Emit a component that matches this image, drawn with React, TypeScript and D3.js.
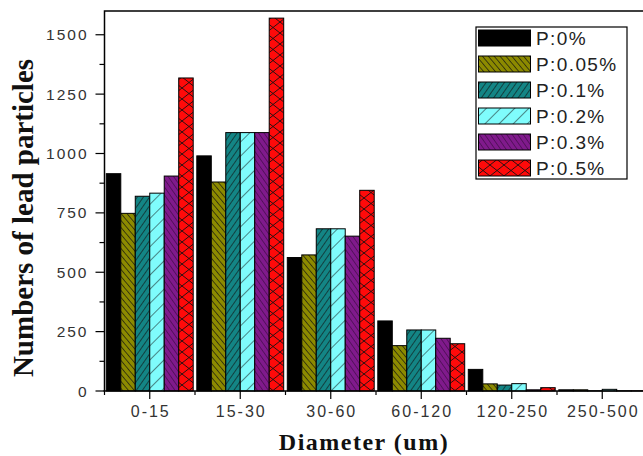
import React from "react";
import { scaleBand, scaleLinear, range } from "d3";

const categories = ["0-15", "15-30", "30-60", "60-120", "120-250", "250-500"];
const seriesNames = ["P:0%", "P:0.05%", "P:0.1%", "P:0.2%", "P:0.3%", "P:0.5%"];

const p0 = [915, 990, 562, 295, 91, 5];
const p005 = [748, 880, 573, 191, 30, 5];
const p01 = [820, 1088, 683, 257, 25, 1];
const p02 = [833, 1088, 683, 257, 31, 7];
const p03 = [905, 1088, 652, 222, 5, 1];
const p05 = [1318, 1570, 845, 199, 14, 1];

const yTicks = [0, 250, 500, 750, 1000, 1250, 1500];

const W = 643;
const H = 456;

// fill + hatch per series
const styles = [
  { fill: "#000000", pattern: null },
  { fill: "#8c8a00", pattern: "olive" },
  { fill: "#138585", pattern: "teal" },
  { fill: "#7ffcfc", pattern: "cyan" },
  { fill: "#801a8c", pattern: "purple" },
  { fill: "#ff0a0a", pattern: "red" },
];

const Patterns = () => (
  <defs>
    <pattern id="olive" width="4.5" height="4.5" patternUnits="userSpaceOnUse" patternTransform="rotate(-40)">
      <rect width="4.5" height="4.5" fill="#8c8a00" />
      <line x1="0" y1="0" x2="0" y2="4.5" stroke="#111" strokeWidth="1.3" />
    </pattern>
    <pattern id="teal" width="5" height="5" patternUnits="userSpaceOnUse" patternTransform="rotate(35)">
      <rect width="5" height="5" fill="#138585" />
      <line x1="0" y1="0" x2="0" y2="5" stroke="#111" strokeWidth="1.2" />
    </pattern>
    <pattern id="cyan" width="10" height="10" patternUnits="userSpaceOnUse" patternTransform="rotate(45)">
      <rect width="10" height="10" fill="#7ffcfc" />
      <line x1="0" y1="0" x2="0" y2="10" stroke="#111" strokeWidth="1" />
    </pattern>
    <pattern id="purple" width="4.5" height="4.5" patternUnits="userSpaceOnUse" patternTransform="rotate(-35)">
      <rect width="4.5" height="4.5" fill="#801a8c" />
      <line x1="0" y1="0" x2="0" y2="4.5" stroke="#3a0a40" strokeWidth="1.2" />
    </pattern>
    <pattern id="red" width="14" height="11" patternUnits="userSpaceOnUse">
      <rect width="14" height="11" fill="#ff0a0a" />
      <path d="M0,0L14,11M14,0L0,11" stroke="#111" strokeWidth="0.9" fill="none" />
    </pattern>
  </defs>
);

export default function App() {
  const series = [p0, p005, p01, p02, p03, p05];
  const left = 104.5;
  const bandW = 90.5;
  const baseY = 391;
  const topY = 11;

  const x = scaleBand().domain(categories).range([left, left + bandW * categories.length]);
  const xInner = scaleBand().domain(seriesNames).range([1.8, bandW - 1.8]);
  const y = scaleLinear().domain([0, 1600]).range([baseY, topY]);

  const fillOf = (i) => (styles[i].pattern ? `url(#${styles[i].pattern})` : styles[i].fill);
  const minorY = range(125, 1600, 250);

  const legX = 476;
  const legY = 27;

  return (
    <svg width={W} height={H} style={{ position: "absolute", left: 0, top: 0, background: "#fff" }}>
      <Patterns />

      {/* bars */}
      {series.map((vals, si) =>
        vals.map((v, ci) => (
          <rect
            key={`${si}-${ci}`}
            x={x(categories[ci]) + xInner(seriesNames[si])}
            y={y(v)}
            width={xInner.bandwidth()}
            height={baseY - y(v)}
            fill={fillOf(si)}
            stroke="#000"
            strokeWidth={1}
          />
        ))
      )}

      {/* frame */}
      <path d={`M${left},${baseY}V${topY}H${W + 10}`} fill="none" stroke="#000" strokeWidth={1.5} />
      <line x1={left - 1} x2={W + 10} y1={baseY} y2={baseY} stroke="#000" strokeWidth={1.5} />

      {/* y ticks */}
      {yTicks.map((t) => (
        <g key={t}>
          <line x1={left - 9} x2={left} y1={y(t)} y2={y(t)} stroke="#000" strokeWidth={1.2} />
          <text
            x={left - 16}
            y={y(t) + 5.5}
            textAnchor="end"
            fontFamily="Liberation Sans, Arial, sans-serif"
            fontSize={15.5}
            letterSpacing={2}
            fill="#333"
          >
            {t}
          </text>
        </g>
      ))}
      {minorY.map((t) => (
        <line key={t} x1={left - 5} x2={left} y1={y(t)} y2={y(t)} stroke="#000" strokeWidth={1.2} />
      ))}

      {/* x ticks */}
      {categories.map((c) => (
        <g key={c}>
          <line
            x1={x(c) + bandW / 2}
            x2={x(c) + bandW / 2}
            y1={baseY}
            y2={baseY + 8}
            stroke="#000"
            strokeWidth={1.2}
          />
          <line x1={x(c)} x2={x(c)} y1={baseY} y2={baseY + 4} stroke="#000" strokeWidth={1.2} />
          <text
            x={x(c) + bandW / 2 + 1}
            y={417}
            textAnchor="middle"
            fontFamily="Liberation Sans, Arial, sans-serif"
            fontSize={16}
            letterSpacing={2}
            fill="#333"
          >
            {c}
          </text>
        </g>
      ))}

      {/* axis titles */}
      <text
        transform={`translate(33,218) rotate(-90)`}
        textAnchor="middle"
        fontFamily="Liberation Serif, Times New Roman, serif"
        fontWeight="bold"
        fontSize={29}
        fill="#111"
      >
        Numbers of lead particles
      </text>
      <text
        x={364}
        y={450}
        textAnchor="middle"
        fontFamily="Liberation Serif, Times New Roman, serif"
        fontWeight="bold"
        fontSize={24}
        letterSpacing={1.5}
        fill="#111"
      >
        Diameter (um)
      </text>

      {/* legend */}
      <rect x={legX} y={legY} width={151} height={152} fill="#fff" stroke="#000" strokeWidth={1.2} />
      {seriesNames.map((s, i) => (
        <g key={s}>
          <rect
            x={legX + 2.5}
            y={legY + 3 + i * 26}
            width={52}
            height={16}
            fill={fillOf(i)}
            stroke="#000"
            strokeWidth={1}
          />
          <text
            x={legX + 60}
            y={legY + 18 + i * 26}
            fontFamily="Liberation Sans, Arial, sans-serif"
            fontSize={19}
            letterSpacing={1.4}
            fill="#222"
          >
            {s}
          </text>
        </g>
      ))}
    </svg>
  );
}
